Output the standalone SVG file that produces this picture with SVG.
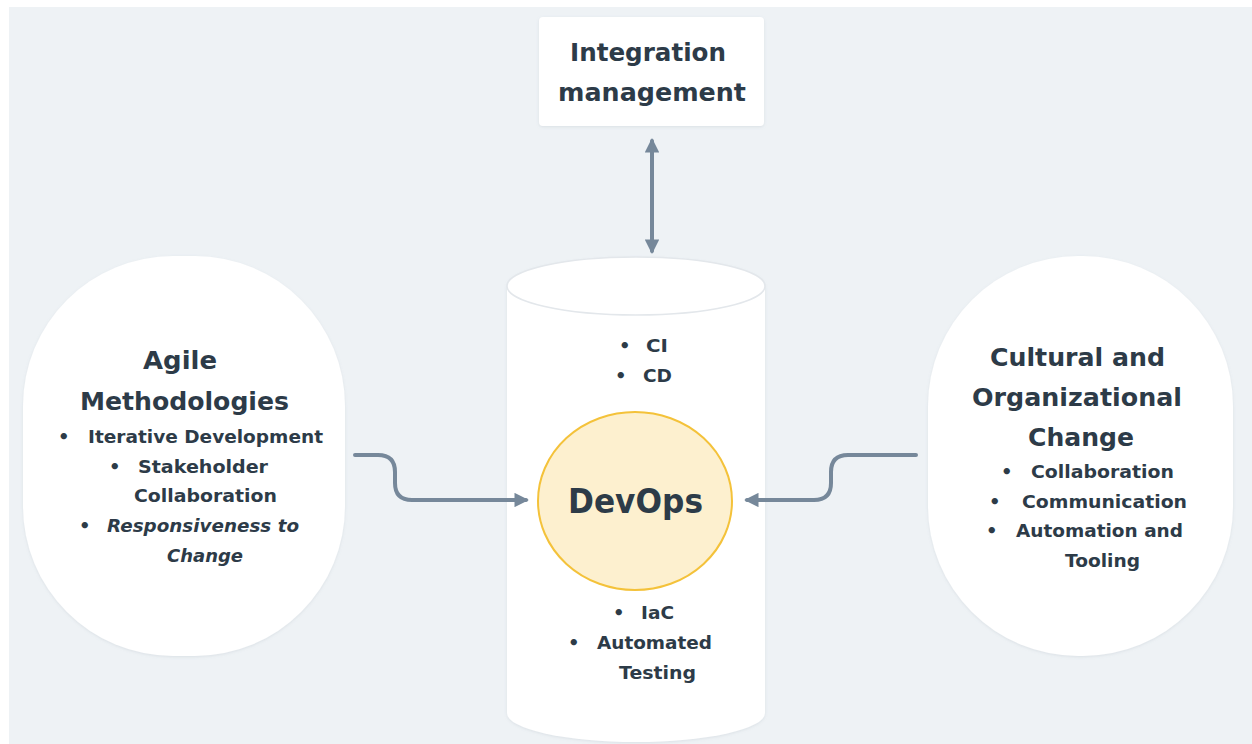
<svg xmlns="http://www.w3.org/2000/svg" width="1252" height="744" viewBox="0 0 1252 744">
  <style>
    .t { font-family: "DejaVu Sans", "Liberation Sans", sans-serif; font-weight: bold; fill: #2d3b48; }
    .h { font-size: 25px; }
    .b { font-size: 18px; }
    .i { font-style: italic; }
    .node { fill: #ffffff; }
    .conn { fill: none; stroke: #76889a; stroke-width: 4; stroke-linecap: round; }
  </style>
  <defs>
    <marker id="arrow" viewBox="0 0 10 10" refX="8" refY="5" markerWidth="3.6" markerHeight="3.6" orient="auto-start-reverse" markerUnits="strokeWidth">
      <path d="M0,0 L10,5 L0,10 z" fill="#76889a"/>
    </marker>
    <filter id="shadow" x="-10%" y="-10%" width="120%" height="120%">
      <feDropShadow dx="0" dy="1" stdDeviation="1.5" flood-color="#8090a0" flood-opacity="0.18"/>
    </filter>
  </defs>

  <rect x="0" y="0" width="1252" height="744" fill="#ffffff"/>
  <rect x="9" y="7" width="1243" height="737" fill="#eef2f5"/>

  <g id="integration">
    <rect class="node" x="539" y="17" width="225" height="109" rx="4" filter="url(#shadow)"/>
    <text class="t h" x="570" y="61" textLength="156" lengthAdjust="spacingAndGlyphs">Integration</text>
    <text class="t h" x="558" y="101" textLength="188" lengthAdjust="spacingAndGlyphs">management</text>
  </g>

  <g id="devops-cylinder">
    <path class="node" d="M507,286 A129,29 0 0 1 765,286 L765,713 A129,29 0 0 1 507,713 Z" filter="url(#shadow)"/>
    <ellipse cx="636" cy="286" rx="129" ry="29" fill="#ffffff" stroke="#e3e7eb" stroke-width="1.5"/>
    <text class="t b" x="619" y="352">•</text>
    <text class="t b" x="646" y="352" textLength="22" lengthAdjust="spacingAndGlyphs">CI</text>
    <text class="t b" x="615" y="382">•</text>
    <text class="t b" x="643" y="382" textLength="29" lengthAdjust="spacingAndGlyphs">CD</text>
    <text class="t b" x="613" y="619">•</text>
    <text class="t b" x="641" y="619" textLength="33" lengthAdjust="spacingAndGlyphs">IaC</text>
    <text class="t b" x="568" y="649">•</text>
    <text class="t b" x="597" y="649" textLength="115" lengthAdjust="spacingAndGlyphs">Automated</text>
    <text class="t b" x="619" y="679" textLength="77" lengthAdjust="spacingAndGlyphs">Testing</text>
  </g>

  <g id="devops">
    <ellipse cx="635" cy="501" rx="97" ry="89" fill="#fdf0cf" stroke="#f4c23a" stroke-width="2"/>
    <text class="t" style="font-size:33px" x="568" y="513" textLength="135" lengthAdjust="spacingAndGlyphs">DevOps</text>
  </g>

  <g id="agile">
    <rect class="node" x="23" y="256" width="322" height="400" rx="150" ry="150" filter="url(#shadow)"/>
    <text class="t h" x="143" y="369" textLength="74" lengthAdjust="spacingAndGlyphs">Agile</text>
    <text class="t h" x="80" y="410" textLength="209" lengthAdjust="spacingAndGlyphs">Methodologies</text>
    <text class="t b" x="58" y="443">•</text>
    <text class="t b" x="88" y="443" textLength="235" lengthAdjust="spacingAndGlyphs">Iterative Development</text>
    <text class="t b" x="109" y="473">•</text>
    <text class="t b" x="138" y="473" textLength="130" lengthAdjust="spacingAndGlyphs">Stakeholder</text>
    <text class="t b" x="134" y="502" textLength="143" lengthAdjust="spacingAndGlyphs">Collaboration</text>
    <text class="t b" x="79" y="532">•</text>
    <text class="t b i" x="107" y="532" textLength="192" lengthAdjust="spacingAndGlyphs">Responsiveness to</text>
    <text class="t b i" x="167" y="562" textLength="76" lengthAdjust="spacingAndGlyphs">Change</text>
  </g>

  <g id="cultural">
    <rect class="node" x="928" y="256" width="305" height="400" rx="150" ry="150" filter="url(#shadow)"/>
    <text class="t h" x="990" y="366" textLength="175" lengthAdjust="spacingAndGlyphs">Cultural and</text>
    <text class="t h" x="972" y="406" textLength="210" lengthAdjust="spacingAndGlyphs">Organizational</text>
    <text class="t h" x="1028" y="446" textLength="106" lengthAdjust="spacingAndGlyphs">Change</text>
    <text class="t b" x="1001" y="478">•</text>
    <text class="t b" x="1031" y="478" textLength="143" lengthAdjust="spacingAndGlyphs">Collaboration</text>
    <text class="t b" x="989" y="508">•</text>
    <text class="t b" x="1022" y="508" textLength="165" lengthAdjust="spacingAndGlyphs">Communication</text>
    <text class="t b" x="986" y="537">•</text>
    <text class="t b" x="1016" y="537" textLength="167" lengthAdjust="spacingAndGlyphs">Automation and</text>
    <text class="t b" x="1065" y="567" textLength="75" lengthAdjust="spacingAndGlyphs">Tooling</text>
  </g>

  <!-- connectors, drawn last so they run over the cylinder -->
  <g id="connectors">
    <path class="conn" d="M652,141 L652,251" marker-start="url(#arrow)" marker-end="url(#arrow)"/>
    <path class="conn" d="M355,455 L378,455 Q395,455 395,472 L395,483 Q395,500 412,500 L526,500" marker-end="url(#arrow)"/>
    <path class="conn" d="M916,455 L848,455 Q831,455 831,472 L831,483 Q831,500 814,500 L747,500" marker-end="url(#arrow)"/>
  </g>
</svg>
